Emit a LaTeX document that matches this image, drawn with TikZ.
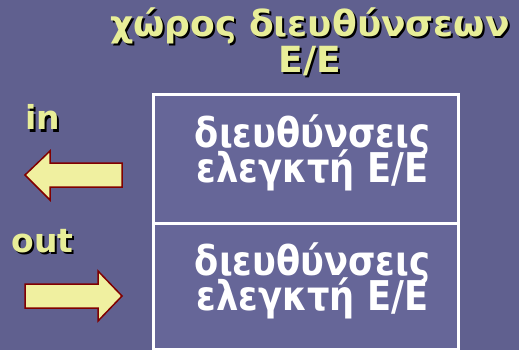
\documentclass[tikz,border=0pt]{standalone}
\usepackage{fontspec}
\setmainfont{DejaVu Sans}
\newfontfamily\narrowsans[FakeStretch=0.86]{DejaVu Sans}
\definecolor{bgc}{RGB}{96,96,143}
\definecolor{boxc}{RGB}{102,102,152}
\definecolor{ylw}{RGB}{232,238,152}
\definecolor{arrf}{RGB}{240,240,160}
\definecolor{arrd}{RGB}{128,0,0}
\tikzset{
  ytext/.style={inner sep=0pt, anchor=base, text=ylw},
  stext/.style={inner sep=0pt, anchor=base, text=black},
  titlefont/.style={font=\bfseries\fontsize{36}{36}\selectfont},
  labfont/.style={font=\bfseries\fontsize{33}{33}\selectfont},
  wtext/.style={inner sep=0pt, anchor=base, text=white, font=\narrowsans\bfseries\fontsize{41}{41}\selectfont},
  blockarrow/.style={fill=arrf, draw=arrd, line width=1.5pt, line join=miter},
}
\begin{document}
\begin{tikzpicture}[x=1pt,y=-1pt]
\fill[bgc] (0,0) rectangle (519,350);
\useasboundingbox (0,0) rectangle (519,350);
% title
\node[stext, titlefont] (t1s) at (312,39) {χώρος διευθύνσεων};
\node[ytext, titlefont] (t1) at (310,37) {χώρος διευθύνσεων};
\node[stext, titlefont] (t2s) at (312,75) {Ε/Ε};
\node[ytext, titlefont] (t2) at (310,73) {Ε/Ε};
% in / out
\node[stext, labfont] (ins) at (44.5,132) {in};
\node[ytext, labfont] (in) at (42.5,130) {in};
\node[stext, labfont] (outs) at (44.5,254) {out};
\node[ytext, labfont] (out) at (42.5,252) {out};
% arrows
\draw[blockarrow] (25,175) -- (50,151) -- (50,163) -- (122,163) -- (122,187) -- (50,187) -- (50,200) -- cycle;
\draw[blockarrow] (25,284) -- (98,284) -- (98,271) -- (122,296) -- (98,321) -- (98,308) -- (25,308) -- cycle;
% boxes
\draw[fill=boxc, draw=white, line width=3pt] (153,95) rectangle (458,349);
\draw[white, line width=3pt] (153,223) -- (458,223);
\node[wtext] (a1) at (312.5,147) {διευθύνσεις};
\node[wtext] (a2) at (312.5,182) {ελεγκτή Ε/Ε};
\node[wtext] (b1) at (312.5,275) {διευθύνσεις};
\node[wtext] (b2) at (312.5,310) {ελεγκτή Ε/Ε};
\end{tikzpicture}
\end{document}
